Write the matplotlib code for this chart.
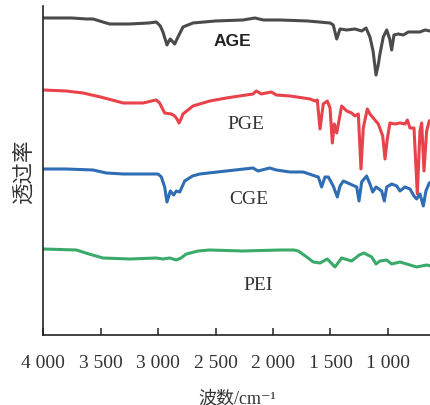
import matplotlib
matplotlib.use("Agg")
import matplotlib.pyplot as plt
import numpy as np

# wavenumber (cm-1) and transmittance (a.u., curves already offset)
age_wn = [4000, 3750, 3620, 3565, 3480, 3420, 3246, 3080, 3015, 2980, 2957, 2922, 2905,
          2893, 2870, 2855, 2826, 2783, 2696, 2500, 2261, 2157, 2084, 1939, 1700, 1504,
          1476, 1446, 1417, 1359, 1287, 1229, 1191, 1157, 1130, 1104, 1085, 1070, 1041,
          1011, 985, 968, 948, 910, 867, 823, 722, 678, 635]
age_t = [317, 317, 316, 316, 313, 311, 311, 312, 313, 309, 303, 290, 294,
         296, 293, 291, 298, 308, 312, 314, 315, 317, 315, 315, 314, 312,
         310, 296, 306, 305, 306, 304, 307, 298, 284, 260, 270, 281, 298,
         305, 296, 285, 300, 301, 300, 303, 303, 305, 304]

pge_wn = [4000, 3800, 3652, 3500, 3400, 3304, 3130, 3015, 2986, 2960, 2942, 2884, 2855,
          2835, 2817, 2800, 2783, 2696, 2550, 2406, 2174, 2145, 2102, 2015, 1971, 1852,
          1736, 1678, 1635, 1615, 1591, 1563, 1528, 1504, 1484, 1467, 1446, 1403, 1359,
          1316, 1287, 1258, 1235, 1215, 1180, 1157, 1128, 1084, 1046, 1026, 1006, 983,
          939, 896, 852, 832, 809, 774, 745, 722, 707, 687, 664, 641, 626]
pge_t = [245, 244, 242, 238, 235, 232, 232, 235, 232, 226, 222, 221, 219,
         216, 212, 216, 221, 229, 234, 237, 241, 244, 241, 243, 240, 239,
         237, 236, 234, 235, 206, 231, 234, 227, 192, 211, 202, 229, 224,
         222, 219, 221, 166, 207, 226, 221, 217, 211, 199, 176, 196, 212,
         211, 212, 211, 215, 207, 207, 141, 204, 212, 164, 204, 214, 215]

cge_wn = [4000, 3800, 3565, 3450, 3304, 3130, 3000, 2971, 2942, 2922, 2893, 2864, 2841,
          2811, 2768, 2700, 2637, 2406, 2174, 2130, 2029, 1971, 1852, 1736, 1635, 1606,
          1577, 1548, 1519, 1476, 1441, 1417, 1388, 1330, 1272, 1252, 1229, 1186, 1157,
          1133, 1104, 1055, 1032, 1011, 968, 924, 896, 852, 809, 774, 751, 722, 693,
          670, 641, 626]
cge_t = [166, 166, 165, 162, 161, 161, 161, 158, 148, 133, 144, 140, 144,
         143, 154, 159, 161, 164, 167, 164, 167, 165, 163, 163, 159, 158,
         148, 158, 158, 149, 138, 149, 154, 151, 148, 134, 153, 159, 151,
         143, 148, 144, 134, 148, 151, 149, 144, 148, 146, 139, 136, 141, 129,
         144, 152, 153]

pei_wn = [4000, 3710, 3600, 3478, 3246, 3015, 2957, 2899, 2841, 2800, 2754, 2650, 2551,
          2261, 1939, 1820, 1780, 1707, 1649, 1591, 1528, 1461, 1403, 1316, 1250, 1209,
          1142, 1104, 1070, 1011, 968, 896, 838, 751, 664, 626]
pei_t = [86, 85, 81, 77, 76, 77, 76, 77, 75, 77, 81, 84, 85,
         84, 85, 85, 84, 78, 73, 72, 76, 68, 77, 74, 80, 82,
         78, 71, 74, 75, 71, 73, 71, 68, 70, 69]

names = ["AGE", "PGE", "CGE", "PEI"]
colors = ["#4b4b4b", "#e8424b", "#2f6db5", "#3aaa6b"]
xticks = [4000, 3500, 3000, 2500, 2000, 1500, 1000]
xticklabels = ["4 000", "3 500", "3 000", "2 500", "2 000", "1 500", "1 000"]

serif = ["Liberation Serif", "DejaVu Serif", "Noto Sans CJK SC"]

fig = plt.figure(figsize=(4.31, 4.06), dpi=100)
ax = fig.add_axes([0.0998, 0.1724, 0.9002, 0.8104])

series = [(age_wn, age_t), (pge_wn, pge_t), (cge_wn, cge_t), (pei_wn, pei_t)]
for (wn, t), c in zip(series, colors):
    ax.plot(wn, t, color=c, lw=2.2, solid_joinstyle="round", solid_capstyle="round")

# curve labels
ax.text(2357, 294, "AGE", fontfamily="Liberation Sans", fontweight="bold",
        fontsize=12.5, color="#222222", ha="center", va="center")
ax.text(2235, 211, "PGE", fontfamily=serif, fontsize=14, color="#333333",
        ha="center", va="center")
ax.text(2209, 136, "CGE", fontfamily=serif, fontsize=14, color="#333333",
        ha="center", va="center")
ax.text(2130, 51, "PEI", fontfamily=serif, fontsize=14, color="#333333",
        ha="center", va="center")

ax.set_xlim(4000, 626)
ax.set_ylim(0, 329)
ax.set_xticks(xticks)
ax.set_xticklabels(xticklabels, fontfamily=serif, fontsize=14, color="#333333")
ax.set_yticks([])
ax.tick_params(axis="x", direction="in", length=5, width=1.1, pad=14, color="#222222")

for s in ["top", "right"]:
    ax.spines[s].set_visible(False)
for s in ["left", "bottom"]:
    ax.spines[s].set_linewidth(1.2)
    ax.spines[s].set_color("#222222")

ax.set_xlabel("波数/cm⁻¹", fontfamily=serif, fontsize=13, color="#333333", labelpad=13)
ax.set_ylabel("透过率", fontfamily=["Noto Sans CJK SC", "DejaVu Sans"], fontsize=15.5,
              color="#333333", labelpad=6)

fig.savefig("out.png", dpi=100)
